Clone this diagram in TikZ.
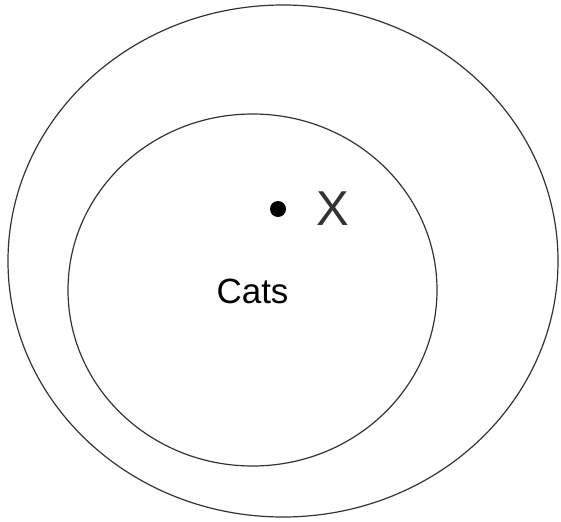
\documentclass[tikz,border=0pt]{standalone}
\usepackage{fontspec}
\setmainfont{Liberation Sans}
\usetikzlibrary{shapes.geometric,positioning}

\begin{document}
\begin{tikzpicture}[
  x=1pt, y=-1pt,
  ring/.style={draw=black!80, line width=1.2pt, ellipse, inner sep=0pt},
  point/.style={circle, fill=black, inner sep=0pt, minimum size=16pt},
  setlabel/.style={font=\fontsize{35}{40}\selectfont, text=black, inner sep=0pt},
  ptlabel/.style={font=\fontsize{49}{54}\selectfont, text=black!80, inner sep=0pt}
]
  \useasboundingbox (0,0) rectangle (561,521);
  \node[ring, minimum width=550pt, minimum height=512pt] (outer) at (283,261) {};
  \node[ring, minimum width=369pt, minimum height=352pt] (cats) at (252.5,290) {};
  \node[setlabel] (catslabel) at (252.5,291) {Cats};
  \node[point] (x) at (278,209) {};
  \node[ptlabel, right=38pt of x.center, anchor=west] (xlabel) {X};
\end{tikzpicture}
\end{document}
